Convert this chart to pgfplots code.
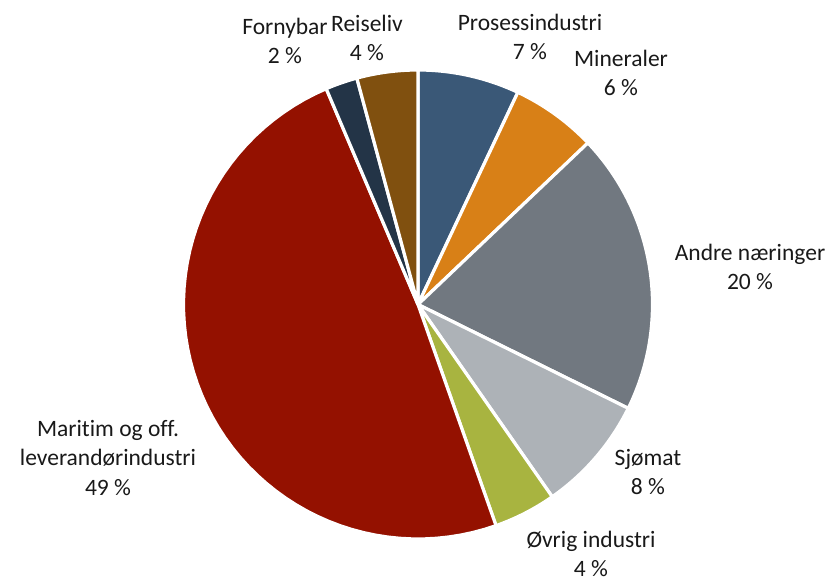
\documentclass[border=0pt]{standalone}
\usepackage{pgfplots}
\pgfplotsset{compat=1.18}
\usepackage{fontspec}
\setmainfont{Carlito}[Ligatures=NoCommon]
\definecolor{cProses}{HTML}{3A5877}
\definecolor{cMiner}{HTML}{D88017}
\definecolor{cAndre}{HTML}{717880}
\definecolor{cSjomat}{HTML}{ADB2B7}
\definecolor{cOvrig}{HTML}{A8B440}
\definecolor{cMarit}{HTML}{941100}
\definecolor{cForny}{HTML}{233447}
\definecolor{cReise}{HTML}{80500F}
\tikzset{lbl/.style={align=center, font=\fontsize{23.5bp}{29.5bp}\selectfont, inner sep=0pt, text=black!90}}
\tikzset{slice/.style={draw=white, line width=3.2bp, line join=round, samples=60}}
% shares in percent, clockwise from 12 o'clock:
% Prosessindustri 7.0, Mineraler 5.9, Andre naeringer 19.4, Sjomat 8.0,
% Ovrig industri 4.3, Maritim 49.0, Fornybar 2.2, Reiseliv 4.2
\begin{document}
\begin{tikzpicture}
\begin{axis}[
  width=830bp, height=582bp, scale only axis,
  xmin=0, xmax=830, ymin=0, ymax=582,
  hide axis, clip=false,
]
\addplot[draw=none, forget plot] coordinates {(0,0) (830,582)};
% cumulative boundaries (percent): 0, 7.0, 12.9, 32.3, 40.3, 44.6, 93.6, 95.8, 100
\addplot[slice, fill=cProses, domain={0*3.6}:{7.0*3.6}] ({418+234.5*sin(x)},{277.5+234.5*cos(x)}) -- (418,277.5) -- cycle;
\addplot[slice, fill=cMiner, domain={7.0*3.6}:{12.9*3.6}] ({418+234.5*sin(x)},{277.5+234.5*cos(x)}) -- (418,277.5) -- cycle;
\addplot[slice, fill=cAndre, domain={12.9*3.6}:{32.3*3.6}] ({418+234.5*sin(x)},{277.5+234.5*cos(x)}) -- (418,277.5) -- cycle;
\addplot[slice, fill=cSjomat, domain={32.3*3.6}:{40.3*3.6}] ({418+234.5*sin(x)},{277.5+234.5*cos(x)}) -- (418,277.5) -- cycle;
\addplot[slice, fill=cOvrig, domain={40.3*3.6}:{44.6*3.6}] ({418+234.5*sin(x)},{277.5+234.5*cos(x)}) -- (418,277.5) -- cycle;
\addplot[slice, fill=cMarit, domain={44.6*3.6}:{93.6*3.6}] ({418+234.5*sin(x)},{277.5+234.5*cos(x)}) -- (418,277.5) -- cycle;
\addplot[slice, fill=cForny, domain={93.6*3.6}:{95.8*3.6}] ({418+234.5*sin(x)},{277.5+234.5*cos(x)}) -- (418,277.5) -- cycle;
\addplot[slice, fill=cReise, domain={95.8*3.6}:{100*3.6}] ({418+234.5*sin(x)},{277.5+234.5*cos(x)}) -- (418,277.5) -- cycle;
% labels
\node[lbl] at (axis cs:530,545) {Prosessindustri\\7 \%};
\node[lbl] at (axis cs:621,509) {Mineraler\\6 \%};
\node[lbl] at (axis cs:750,315) {Andre næringer\\20 \%};
\node[lbl] at (axis cs:648,110) {Sjømat\\8 \%};
\node[lbl] at (axis cs:591,28) {Øvrig industri\\4 \%};
\node[lbl] at (axis cs:108,124) {Maritim og off.\\leverandørindustri\\49 \%};
\node[lbl] at (axis cs:285,541) {Fornybar\\2 \%};
\node[lbl] at (axis cs:367,544) {Reiseliv\\4 \%};
\end{axis}
\end{tikzpicture}
\end{document}
